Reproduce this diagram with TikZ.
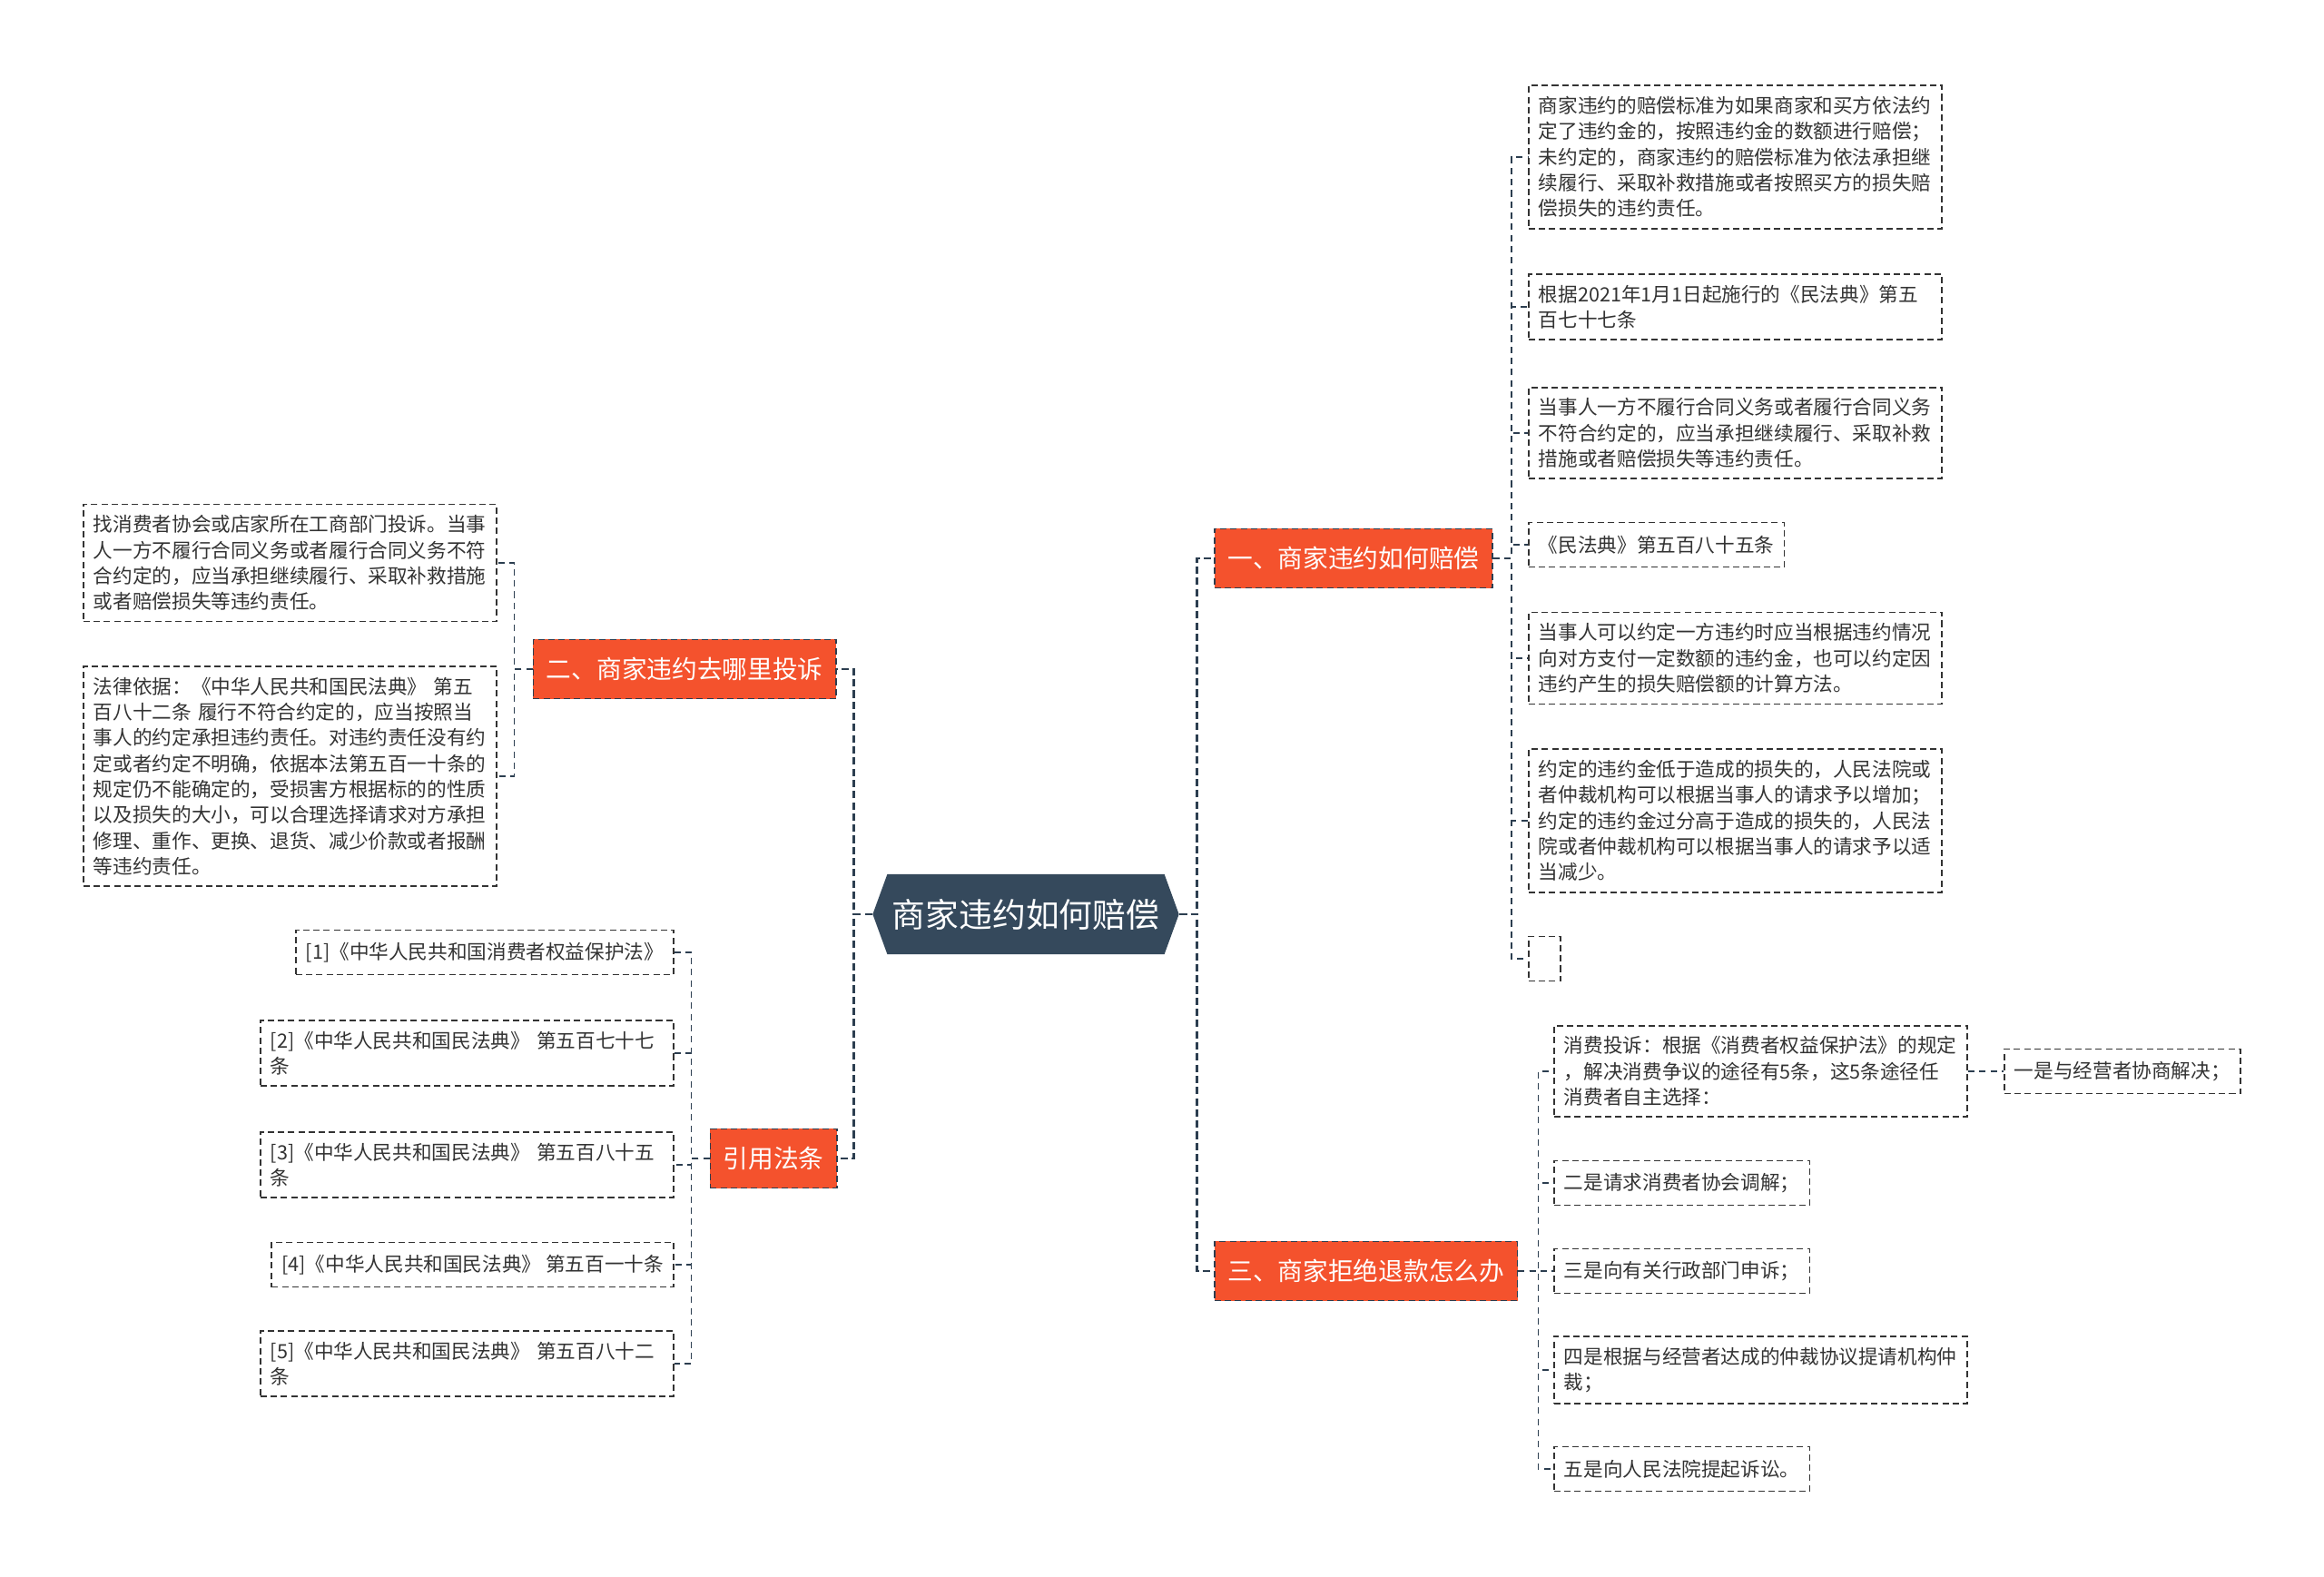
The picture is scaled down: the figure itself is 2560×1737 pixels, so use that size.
\documentclass[tikz,border=0pt]{standalone}
\usepackage{fontspec}
\setmainfont{Noto Sans CJK SC}
\usetikzlibrary{shapes.symbols}
\definecolor{slate}{HTML}{35495C}
\definecolor{flame}{HTML}{F4522D}
\definecolor{ink}{HTML}{333333}
\definecolor{wire}{HTML}{2C3E50}
\begin{document}
\begin{tikzpicture}[x=0.01cm,y=-0.01cm,
	root/.style={signal,signal to=east and west,signal pointer angle=140,fill=slate,text=white,
		font=\fontsize{10.46pt}{12pt}\selectfont,inner xsep=0.055cm,inner ysep=0pt,minimum height=0.88cm},
	topic/.style={fill=flame,draw=wire,dash pattern=on 2pt off 1.2pt,line width=0.45pt,text=white,
		font=\fontsize{7.88pt}{9pt}\selectfont,inner xsep=0.145cm,inner ysep=0pt,minimum height=0.65cm},
	leaf/.style={draw=ink,dash pattern=on 2pt off 1.2pt,line width=0.5pt,text=ink,align=left,
		font=\fontsize{6.15pt}{8.05pt}\selectfont,inner xsep=0.11cm,inner ysep=0.12cm,minimum height=0.49cm},
	wide/.style={leaf,text width=4.33cm},
	trunk/.style={draw=wire,line width=0.8pt,dash pattern=on 2.3pt off 1.2pt},
	twig/.style={draw=wire,line width=0.5pt,dash pattern=on 2pt off 1.5pt}]
	\useasboundingbox (0,0) rectangle (2560,1737);
	\node[root] (root) at (1130,1007) {商家违约如何赔偿};
	\node[topic,anchor=west] (b1) at (1337,615) {一、商家违约如何赔偿};
	\node[topic,anchor=east] (b2) at (922,737) {二、商家违约去哪里投诉};
	\node[topic,anchor=west] (b3) at (1337,1400) {三、商家拒绝退款怎么办};
	\node[topic,anchor=east] (b4) at (923,1276) {引用法条};
	\draw[trunk] (root.east) -- ++(19,0) |- (b1.west);
	\draw[trunk] (root.east) -- ++(19,0) |- (b3.west);
	\draw[trunk] (root.west) -- ++(-20,0) |- (b2.east);
	\draw[trunk] (root.west) -- ++(-20,0) |- (b4.east);
	\node[wide,anchor=west] (r1) at (1683,173) {商家违约的赔偿标准为如果商家和买方依法约\\定了违约金的，按照违约金的数额进行赔偿；\\未约定的，商家违约的赔偿标准为依法承担继\\续履行、采取补救措施或者按照买方的损失赔\\偿损失的违约责任。};
	\node[wide,anchor=west] (r2) at (1683,338) {根据2021年1月1日起施行的《民法典》第五\\百七十七条};
	\node[wide,anchor=west] (r3) at (1683,477) {当事人一方不履行合同义务或者履行合同义务\\不符合约定的，应当承担继续履行、采取补救\\措施或者赔偿损失等违约责任。};
	\node[leaf,anchor=west] (r4) at (1683,600) {《民法典》第五百八十五条};
	\node[wide,anchor=west] (r5) at (1683,725) {当事人可以约定一方违约时应当根据违约情况\\向对方支付一定数额的违约金，也可以约定因\\违约产生的损失赔偿额的计算方法。};
	\node[wide,anchor=west] (r6) at (1683,904) {约定的违约金低于造成的损失的，人民法院或\\者仲裁机构可以根据当事人的请求予以增加；\\约定的违约金过分高于造成的损失的，人民法\\院或者仲裁机构可以根据当事人的请求予以适\\当减少。};
	\node[leaf,anchor=west,minimum width=0.35cm] (r7) at (1683,1056) {};
	\foreach \n in {r1,r2,r3,r4,r5,r6,r7}
		\draw[twig] (b1.east) -- ++(20,0) |- (\n.west);
	\node[wide,anchor=east] (l1) at (548,620) {找消费者协会或店家所在工商部门投诉。当事\\人一方不履行合同义务或者履行合同义务不符\\合约定的，应当承担继续履行、采取补救措施\\或者赔偿损失等违约责任。};
	\node[wide,anchor=east] (l2) at (548,855) {法律依据：《中华人民共和国民法典》 第五\\百八十二条 履行不符合约定的，应当按照当\\事人的约定承担违约责任。对违约责任没有约\\定或者约定不明确，依据本法第五百一十条的\\规定仍不能确定的，受损害方根据标的的性质\\以及损失的大小，可以合理选择请求对方承担\\修理、重作、更换、退货、减少价款或者报酬\\等违约责任。};
	\foreach \n in {l1,l2}
		\draw[twig] (b2.west) -- ++(-20,0) |- (\n.east);
	\node[wide,anchor=west] (c1) at (1711,1180) {消费投诉：根据《消费者权益保护法》的规定\\，解决消费争议的途径有5条，这5条途径任\\消费者自主选择：};
	\node[leaf,anchor=west] (c2) at (1711,1303) {二是请求消费者协会调解；};
	\node[leaf,anchor=west] (c3) at (1711,1400) {三是向有关行政部门申诉；};
	\node[wide,anchor=west] (c4) at (1711,1509) {四是根据与经营者达成的仲裁协议提请机构仲\\裁；};
	\node[leaf,anchor=west] (c5) at (1711,1618) {五是向人民法院提起诉讼。};
	\foreach \n in {c1,c2,c3,c4,c5}
		\draw[twig] (b3.east) -- ++(22,0) |- (\n.west);
	\node[leaf,anchor=west] (c6) at (2207,1180) {一是与经营者协商解决；};
	\draw[twig] (c1.east) -- (c6.west);
	\node[leaf,anchor=east] (f1) at (743,1049) {[1]《中华人民共和国消费者权益保护法》};
	\node[wide,anchor=east] (f2) at (743,1160) {[2]《中华人民共和国民法典》 第五百七十七\\条};
	\node[wide,anchor=east] (f3) at (743,1283) {[3]《中华人民共和国民法典》 第五百八十五\\条};
	\node[leaf,anchor=east] (f4) at (743,1393) {[4]《中华人民共和国民法典》 第五百一十条};
	\node[wide,anchor=east] (f5) at (743,1502) {[5]《中华人民共和国民法典》 第五百八十二\\条};
	\foreach \n in {f1,f2,f3,f4,f5}
		\draw[twig] (b4.west) -- ++(-20,0) |- (\n.east);
\end{tikzpicture}
\end{document}
